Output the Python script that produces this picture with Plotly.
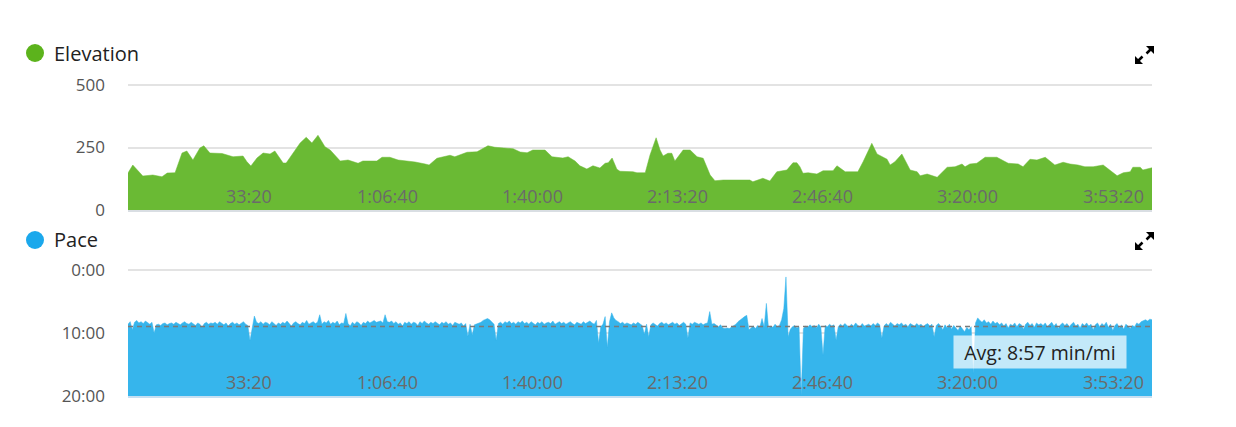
import plotly.graph_objects as go

# page body has an 8px margin; the figure is sized to fill the rest of the window
PAGE_OFF = 8
W, H = 1236 - PAGE_OFF, 427 - PAGE_OFF

# ---------------- data ----------------
elev_time_min = [0.0, 1.1, 3.4, 5.7, 7.8, 9.0, 10.8, 12.4, 13.5, 14.9, 16.5, 17.4, 18.8, 21.6, 24.1, 26.4,
                 27.3, 28.2, 29.6, 31.0, 32.6, 33.7, 35.6, 36.3, 37.9, 39.5, 40.9, 42.2, 43.6, 45.2, 46.4,
                 48.7, 50.5, 52.8, 53.9, 57.1, 58.3, 60.1, 62.0, 64.7, 65.9, 68.2, 69.1, 70.9, 73.2, 73.9,
                 75.0, 77.8, 80.1, 82.6, 84.2, 88.4, 90.0, 91.6, 92.9, 95.7, 97.3, 99.8, 101.0, 102.6, 103.7,
                 105.3, 106.7, 108.3, 109.5, 110.2, 111.1, 112.2, 112.9, 115.9, 116.8, 118.7, 119.8, 121.2,
                 122.1, 122.8, 123.9, 124.8, 125.5, 127.4, 129.0, 130.6, 132.0, 133.6, 134.7, 136.6, 142.7,
                 143.4, 145.7, 147.3, 148.9, 151.2, 152.6, 153.5, 154.2, 154.9, 156.1, 158.1, 159.5, 161.8,
                 162.7, 164.6, 167.5, 168.7, 170.7, 171.9, 174.2, 174.9, 176.0, 177.6, 179.5, 181.1, 181.8,
                 183.4, 185.7, 188.0, 189.8, 191.4, 192.1, 193.2, 194.8, 196.7, 199.4, 202.0, 204.3, 205.4,
                 207.0, 208.6, 210.5, 212.7, 214.6, 216.2, 218.0, 219.6, 221.5, 223.8, 227.0, 228.4, 230.0,
                 230.6, 232.3, 232.9, 235.0]
elev_ft = [148, 180, 136, 140, 133, 148, 149, 228, 236, 200, 248, 257, 228, 226, 213, 216,
           193, 176, 208, 228, 224, 236, 188, 188, 228, 268, 291, 268, 299, 253, 240,
           196, 200, 187, 196, 196, 211, 211, 200, 196, 192, 184, 180, 207, 216, 219,
           213, 231, 233, 257, 251, 245, 232, 229, 240, 240, 213, 208, 213, 196, 177,
           164, 177, 168, 187, 189, 208, 163, 155, 153, 149, 149, 220, 289,
           240, 216, 227, 227, 196, 240, 240, 213, 207, 140, 117, 120, 120,
           113, 127, 116, 153, 160, 189, 189, 173, 147, 149, 144, 157, 157,
           177, 153, 153, 193, 267, 224, 203, 180, 193, 224, 160, 153, 137,
           144, 131, 171, 173, 184, 173, 184, 187, 211, 211, 187, 184, 173,
           203, 200, 211, 180, 191, 184, 180, 173, 173, 180, 137, 149, 153,
           171, 171, 160, 169]

pace_step_min = 0.5
pace_min_per_mi = [
    8.6, 8.2, 9.5, 8.3, 8.0, 8.4, 8.2, 8.5, 8.1, 8.4, 8.6, 8.3, 10.0, 8.7, 8.6, 8.8, 8.5, 8.4, 8.7, 8.5,
    8.4, 8.6, 8.3, 8.5, 8.7, 8.4, 8.2, 8.5, 8.6, 8.3, 8.5, 8.8, 8.4, 8.6, 9.1, 8.5, 8.3, 8.6, 8.4, 8.5,
    8.3, 8.6, 8.2, 8.5, 8.7, 8.4, 8.9, 8.5, 8.3, 8.6, 8.4, 8.7, 8.5, 8.2, 8.6, 8.8, 11.2, 8.9, 7.3, 8.3,
    8.5, 8.2, 8.6, 8.3, 8.4, 8.7, 8.2, 8.5, 8.8, 8.4, 8.6, 8.3, 8.5, 8.1, 8.6, 8.9, 8.4, 8.2, 8.5, 8.7,
    8.3, 8.5, 8.0, 8.6, 8.4, 8.2, 8.5, 8.3, 7.1, 8.6, 8.2, 8.4, 8.0, 8.6, 8.3, 8.5, 8.1, 8.7, 8.4, 8.5,
    6.9, 8.5, 8.9, 8.3, 8.6, 8.2, 8.4, 8.8, 8.3, 8.5, 8.1, 8.4, 8.2, 8.0, 8.3, 8.2, 8.1, 8.4, 7.1, 8.2,
    8.3, 8.1, 8.5, 8.2, 8.6, 8.4, 8.9, 8.3, 8.5, 8.2, 8.6, 8.3, 8.4, 8.8, 8.2, 8.5, 8.1, 8.4, 8.6, 8.3,
    8.5, 8.2, 8.4, 8.7, 8.3, 8.5, 8.2, 8.6, 8.4, 8.8, 8.3, 8.5, 8.6, 8.4, 8.9, 8.5, 10.5, 8.6, 10.3, 8.7,
    8.6, 8.4, 8.3, 8.0, 7.8, 7.7, 7.9, 8.3, 8.6, 11.2, 8.5, 8.3, 8.6, 8.2, 8.4, 8.1, 8.5, 8.3, 8.6, 8.2,
    8.4, 8.1, 8.5, 8.3, 8.6, 8.2, 8.4, 8.7, 8.3, 8.5, 8.2, 8.6, 8.4, 8.3, 8.5, 8.1, 8.6, 8.4, 8.2, 8.5,
    8.3, 8.6, 8.4, 8.2, 8.5, 8.7, 8.3, 8.4, 8.6, 8.2, 8.5, 8.3, 8.1, 8.4, 8.6, 8.0, 11.6, 9.0, 8.6, 7.4,
    12.3, 8.2, 6.8, 7.6, 8.0, 8.2, 8.5, 8.3, 8.6, 8.4, 8.5, 8.7, 8.4, 8.6, 8.3, 8.5, 8.8, 10.2, 8.6, 10.6,
    8.7, 8.4, 8.6, 8.9, 8.5, 8.3, 8.6, 8.4, 8.7, 8.5, 8.3, 8.6, 8.4, 8.8, 8.5, 8.3, 8.6, 10.8, 8.4, 8.6,
    8.3, 8.5, 8.6, 8.4, 8.7, 8.5, 8.4, 6.6, 8.6, 8.5, 8.8, 9.0, 8.7, 9.2, 9.3, 9.2, 9.3, 9.1, 8.9, 8.6,
    8.2, 7.9, 7.6, 7.4, 7.2, 9.5, 9.2, 8.9, 9.3, 8.8, 9.1, 7.7, 9.0, 5.3, 9.3, 8.9, 9.1, 8.6, 9.0, 8.8,
    7.9, 6.1, 1.1, 10.6, 9.4, 9.0, 8.8, 9.2, 9.0, 19.8, 9.3, 8.9, 9.1, 8.7, 9.0, 8.8, 9.2, 8.6, 9.0, 13.5,
    8.8, 9.0, 8.6, 8.9, 8.7, 11.1, 9.0, 8.6, 8.9, 8.5, 8.8, 9.1, 8.6, 8.9, 8.4, 8.8, 9.0, 8.5, 8.9, 8.7,
    8.6, 8.9, 8.5, 8.8, 8.4, 8.7, 10.8, 8.9, 8.5, 8.8, 8.3, 8.6, 8.9, 8.5, 8.7, 8.4, 8.8, 8.6, 9.0, 8.5,
    8.7, 8.9, 8.5, 8.8, 8.6, 9.0, 8.7, 8.5, 8.9, 8.6, 10.6, 8.8, 8.5, 8.9, 9.5, 8.7, 9.2, 8.6, 9.4, 8.8,
    9.2, 9.6, 8.9, 9.4, 9.8, 9.1, 9.5, 9.0, 16.4, 8.4, 7.6, 8.0, 8.3, 7.9, 8.4, 8.2, 8.6, 8.1, 8.5, 8.3,
    8.7, 8.4, 8.9, 8.5, 9.2, 8.6, 8.8, 8.4, 9.0, 8.5, 8.7, 9.4, 8.6, 8.3, 8.8, 8.5, 9.1, 8.4, 8.7, 8.5,
    8.8, 8.4, 9.0, 8.6, 8.3, 8.9, 8.5, 9.3, 8.7, 8.4, 8.8, 8.5, 9.0, 8.6, 8.3, 8.9, 8.6, 9.2, 8.5, 8.8,
    8.4, 8.9, 8.6, 9.5, 8.7, 8.4, 9.0, 8.5, 8.8, 8.3, 9.1, 8.6, 9.6, 8.8, 8.5, 9.2, 8.7, 9.4, 8.6, 8.9,
    9.3, 8.8, 9.0, 8.4, 8.6, 8.2, 8.0, 7.9, 8.1, 7.8, 7.9,
]
pace_avg = 8.95  # 8:57 min/mi
avg_label = "Avg: 8:57 min/mi"

x_tick_seconds = [2000, 4000, 6000, 8000, 10000, 12000, 14000]
x_tick_labels = ["33:20", "1:06:40", "1:40:00", "2:13:20", "2:46:40", "3:20:00", "3:53:20"]
x_range_seconds = [0, 14100]
elev_ticks = [0, 250, 500]
elev_range = [0, 512]          # a little headroom so the 500 gridline is fully drawn
pace_ticks = [0, 10, 20]
pace_tick_labels = ["0:00", "10:00", "20:00"]
pace_range = [20, -0.5]        # reversed; a little headroom above 0:00

GREEN_FILL = "#6aba34"
GREEN_DOT = "#5cb31c"
BLUE_FILL = "#36b5ec"
BLUE_DOT = "#1ba8ec"

# ---------------- helpers (window pixel -> paper) ----------------
def px(x):
    return (x - PAGE_OFF) / W

def py(y):
    return 1 - (y - PAGE_OFF) / H

# pixel rows of the value 0 / 500 and 0:00 / 20:00 in the window
ELEV_Y0, ELEV_Y500 = 210, 85
PACE_Y0, PACE_Y20 = 270, 396
elev_top_px = ELEV_Y0 - (ELEV_Y0 - ELEV_Y500) * elev_range[1] / 500
pace_top_px = PACE_Y0 + (PACE_Y20 - PACE_Y0) * pace_range[1] / 20

X_DOM = [px(128), px(1152)]
ELEV_DOM = [py(ELEV_Y0), py(elev_top_px)]
PACE_DOM = [py(PACE_Y20), py(pace_top_px)]

elev_t = [m * 60 for m in elev_time_min]
pace_t = [i * pace_step_min * 60 for i in range(len(pace_min_per_mi))]

fig = go.Figure()
fig.add_trace(go.Scatter(x=elev_t, y=elev_ft, mode="lines", fill="tozeroy",
                         line=dict(color=GREEN_FILL, width=0.5), fillcolor=GREEN_FILL,
                         xaxis="x", yaxis="y", hoverinfo="skip", showlegend=False))
fig.add_trace(go.Scatter(x=[pace_t[0], pace_t[-1]], y=[20, 20], mode="lines",
                         line=dict(width=0, color=BLUE_FILL), xaxis="x2", yaxis="y2",
                         hoverinfo="skip", showlegend=False))
fig.add_trace(go.Scatter(x=pace_t, y=pace_min_per_mi, mode="lines", fill="tonexty",
                         line=dict(color=BLUE_FILL, width=0.5), fillcolor=BLUE_FILL,
                         xaxis="x2", yaxis="y2", hoverinfo="skip", showlegend=False))

FONT = "Open Sans, Noto Sans, sans-serif"
xcommon = dict(range=x_range_seconds, showticklabels=False, showgrid=False,
               zeroline=False, showline=True, linecolor="#d9dee3", linewidth=2,
               ticks="", domain=X_DOM, fixedrange=True, automargin=False)
ycommon = dict(showgrid=True, gridcolor="#e3e3e3", gridwidth=1.5, zeroline=False, ticks="",
               ticklabelstandoff=22, tickfont=dict(family=FONT, size=17, color="#555555"),
               automargin=False, fixedrange=True)

fig.update_layout(
    width=W, height=H, margin=dict(l=0, r=0, t=0, b=0, autoexpand=False),
    paper_bgcolor="white", plot_bgcolor="white", showlegend=False,
    xaxis=dict(anchor="y", **xcommon),
    xaxis2=dict(anchor="y2", **{**xcommon, "linecolor": "#c6dff2"}),
    yaxis=dict(domain=ELEV_DOM, range=elev_range, tickmode="array", tickvals=elev_ticks,
               anchor="x", **ycommon),
    yaxis2=dict(domain=PACE_DOM, range=pace_range, tickmode="array", tickvals=pace_ticks,
                ticktext=pace_tick_labels, anchor="x2", **ycommon),
)

shapes = []
# average pace dashed line
shapes.append(dict(type="line", xref="x2 domain", yref="y2", x0=0, x1=1, y0=pace_avg, y1=pace_avg,
                   line=dict(color="#7a7a7a", width=1.5, dash="5px,4px"), layer="above"))
# legend dots
for cy, col in [(53, GREEN_DOT), (240, BLUE_DOT)]:
    shapes.append(dict(type="circle", xref="paper", yref="paper", x0=px(26), x1=px(44),
                       y0=py(cy + 9), y1=py(cy - 9), fillcolor=col, line=dict(width=0)))

# expand icons
def path(points):
    return "M " + " L ".join(f"{px(x):.5f},{py(y):.5f}" for x, y in points) + " Z"

for oy in (0, 186):
    heads = [[(1146, 46 + oy), (1154, 46 + oy), (1154, 54 + oy)],
             [(1135, 56 + oy), (1135, 64 + oy), (1143, 64 + oy)]]
    for h in heads:
        shapes.append(dict(type="path", xref="paper", yref="paper", path=path(h),
                           fillcolor="black", line=dict(width=0)))
    for (x0, y0, x1, y1) in [(1151, 49, 1146.5, 53.5), (1138, 61, 1142.5, 56.5)]:
        shapes.append(dict(type="line", xref="paper", yref="paper", x0=px(x0), y0=py(y0 + oy),
                           x1=px(x1), y1=py(y1 + oy), line=dict(color="black", width=2.5)))
fig.update_layout(shapes=shapes)

annotations = [
    dict(text="Elevation", xref="paper", yref="paper", x=px(52), y=py(53), xanchor="left",
         yanchor="middle", showarrow=False, font=dict(family=FONT, size=20, color="#222222")),
    dict(text="Pace", xref="paper", yref="paper", x=px(52), y=py(240), xanchor="left",
         yanchor="middle", showarrow=False, font=dict(family=FONT, size=20, color="#222222")),
]
# x tick labels drawn inside the plot, right-aligned to their tick positions
for xr, yr in (("x", "y domain"), ("x2", "y2 domain")):
    for tv, tt in zip(x_tick_seconds, x_tick_labels):
        annotations.append(dict(text=tt, xref=xr, yref=yr, x=tv, y=0, xanchor="right",
                                yanchor="bottom", xshift=1, yshift=0, showarrow=False,
                                font=dict(family=FONT, size=18, color="#6a6a6a")))
annotations.append(dict(text=avg_label, xref="paper", yref="paper", x=px(1040), y=py(352),
                        xanchor="center", yanchor="middle", showarrow=False, width=170, height=30,
                        bgcolor="rgba(255,255,255,0.7)",
                        font=dict(family=FONT, size=19.5, color="#222222")))
fig.update_layout(annotations=annotations)

fig.write_html("out.html")
